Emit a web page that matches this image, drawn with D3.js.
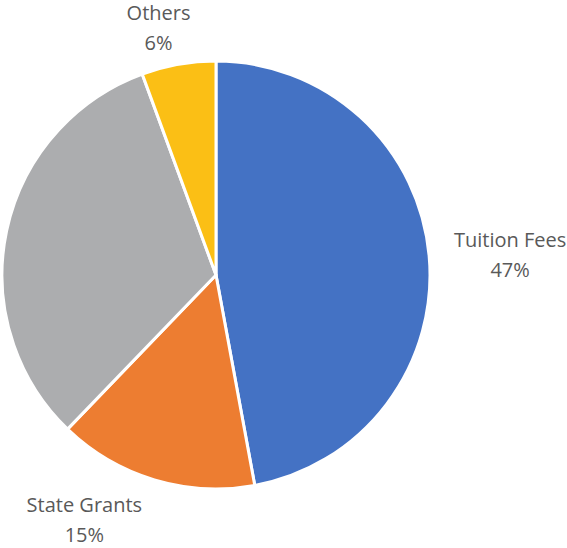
<!DOCTYPE html>
<html>
<head>
<meta charset="utf-8">
<script src="https://cdn.jsdelivr.net/npm/d3@7"></script>
<style>
  body { margin: 0; background: #fff; }
  text { font-family: "Open Sans", sans-serif; fill: #595959; }
</style>
</head>
<body>
<svg id="chart" width="567" height="548"></svg>
<script>
// data
const categories = ["Tuition Fees", "State Grants", "", "Others"];
const shares = [47.1, 15.1, 32.2, 5.6];
const colors = ["#4472C4", "#ED7D31", "#ACADAF", "#FBBF15"];

// label nudges from the slice's outer edge
const labelOffsets = [[81, -1], [-70, 40], [0, 0], [-20, -36]];

const width = 567, height = 548;
const cx = 216, cy = 275, radius = 214;

const svg = d3.select("#chart");
const g = svg.append("g").attr("transform", `translate(${cx},${cy})`);

const pie = d3.pie().sort(null).value(d => d.value);
const arcs = pie(categories.map((c, i) => ({ name: c, value: shares[i], i })));

const arc = d3.arc().innerRadius(0).outerRadius(radius);
const edge = d3.arc().innerRadius(radius).outerRadius(radius);

g.selectAll("path")
  .data(arcs)
  .join("path")
  .attr("d", arc)
  .attr("fill", d => colors[d.data.i])
  .attr("stroke", "#fff")
  .attr("stroke-width", 3)
  .attr("stroke-linejoin", "round");

const labels = g.selectAll("g.label")
  .data(arcs.filter(d => d.data.name))
  .join("g")
  .attr("class", "label")
  .attr("transform", d => {
    const [x, y] = edge.centroid(d);
    const o = labelOffsets[d.data.i];
    return `translate(${x + o[0]},${y + o[1]})`;
  });

labels.append("text")
  .attr("text-anchor", "middle")
  .attr("y", -8)
  .style("font-size", "20px")
  .text(d => d.data.name);

labels.append("text")
  .attr("text-anchor", "middle")
  .attr("y", 22)
  .style("font-size", "20px")
  .text(d => d3.format(".0%")(d.value / d3.sum(shares)));
</script>
</body>
</html>
